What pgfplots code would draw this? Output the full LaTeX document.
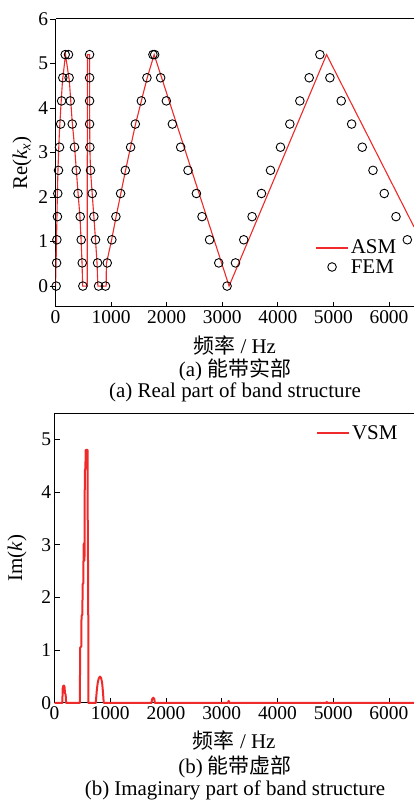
\documentclass[border=0pt]{standalone}
\usepackage{pgfplots}
\pgfplotsset{compat=1.18}
\usepackage{fontspec}
\setmainfont{Liberation Serif}
\newfontfamily\cjk{Noto Sans CJK SC}

\definecolor{curvered}{RGB}{238,42,42}

\newcommand{\lblfont}{\fontsize{21}{23}\selectfont}
\newcommand{\tickfont}{\fontsize{19.5}{21}\selectfont}

\pgfplotsset{
  bandaxis/.style={
    scale only axis,
    anchor=south west,
    xmin=0, xmax=6450,
    axis x line*=box, axis y line*=left,
    xtick={0,1000,...,6000},
    xtick pos=left,
    tick align=inside,
    major tick length=5bp,
    axis line style={line width=1bp, black},
    tick style={line width=0.8bp, black},
    scaled ticks=false,
    /pgf/number format/1000 sep={},
    /pgf/number format/assume math mode=true,
    ticklabel style={font=\tickfont},
    label style={font=\lblfont},
    legend cell align=left,
    legend style={draw=none, fill=none, font=\lblfont, inner sep=0pt,
      row sep=0bp},
    legend image code/.code={
      \draw[mark repeat=2,mark phase=2,##1] plot coordinates {(0bp,0bp) (16bp,0bp) (32bp,0bp)};
    },
  },
}

\begin{document}
\begin{tikzpicture}
\useasboundingbox (0bp,0bp) rectangle (414bp,803bp);

% ---------------- (a) real part ----------------
\begin{axis}[
  bandaxis,
  at={(55.5bp,496bp)}, width=358.5bp, height=288bp,
  ymin=-0.47, ymax=6,
  ytick={0,1,...,6},
  y tick style={xshift=-5bp},
  yticklabel style={xshift=-4bp},
  xlabel={{\cjk 频率} / Hz},
  xlabel style={at={(axis description cs:0.5,-0.132)}, anchor=center},
  ylabel={Re(\textit{k}\textsubscript{\textit{x}})},
  ylabel style={at={(axis description cs:-0.093,0.5)}, anchor=center},
  legend style={at={(axis description cs:0.724,0.24)}, anchor=north west},
]
% analytical spectral method
\addplot[curvered, line width=1.1bp, legend image post style={line width=1.6bp}] coordinates {
  (0,0) (10,0.5) (18,1.0) (25,1.5) (33,2.0) (42,2.5) (55,3.0) (72,3.5)
  (95,4.0) (125,4.6) (180,5.2)
  (250,4.6) (300,3.7) (345,3.1) (375,2.6) (405,2.1) (440,1.56) (460,1.05)
  (478,0.5) (488,0) (571,0) (573,5.2) (612,5.2) (614,4.0) (618,3.1)
  (630,2.6) (660,2.08) (690,1.56) (720,1.04) (748,0.5) (762,0)
  (912,0) (915,0.5) (1010,1.04) (1090,1.56) (1175,2.08) (1260,2.6)
  (1350,3.12) (1440,3.64) (1545,4.16) (1650,4.68) (1775,5.2)
  (3123,0) (4877,5.2) (6450,1.33)
};
\addlegendentry{ASM}
% finite element results
\addplot[only marks, mark=o, mark size=4.3bp, mark options={line width=0.9bp, black}] coordinates {
  (12,0) (20,0.52) (25,1.04) (35,1.56) (41,2.08) (54,2.6) (72,3.12)
  (92,3.64) (110,4.16) (131,4.68) (175,5.2)
  (234,5.2) (245,4.68) (265,4.16) (301,3.64) (342,3.12) (373,2.6)
  (405,2.08) (445,1.56) (463,1.04) (481,0.52) (492,0)
  (613,5.2) (613,4.68) (613,4.16) (613,3.64) (618,3.12) (630,2.6)
  (661,2.08) (690,1.56) (720,1.04) (757,0.52) (775,0)
  (900,0) (931,0.52) (1014,1.04) (1087,1.56) (1171,2.08) (1256,2.6)
  (1351,3.12) (1436,3.64) (1544,4.16) (1645,4.68) (1753,5.2)
  (1784,5.2) (1892,4.68) (1994,4.16) (2103,3.64) (2252,3.12) (2384,2.6)
  (2535,2.08) (2636,1.56) (2772,1.04) (2937,0.52) (3087,0)
  (3238,0.52) (3387,1.04) (3537,1.56) (3706,2.08) (3868,2.6) (4048,3.12)
  (4216,3.64) (4396,4.16) (4564,4.68) (4757,5.2)
  (4937,4.68) (5141,4.16) (5328,3.64) (5519,3.12) (5712,2.6) (5915,2.08)
  (6126,1.56) (6330,1.04)
};
\addlegendentry{FEM}
\end{axis}

\node[font=\lblfont] at (235bp,433bp) {(a) {\cjk 能带实部}};
\node[font=\lblfont] at (235bp,411bp) {(a) Real part of band structure};

% ---------------- (b) imaginary part ----------------
\begin{axis}[
  bandaxis,
  at={(54.5bp,100bp)}, width=359.5bp, height=290bp,
  ymin=0, ymax=5.5,
  ytick={0,1,...,5},
  clip=false,
  xlabel={{\cjk 频率} / Hz},
  xlabel style={at={(axis description cs:0.5,-0.128)}, anchor=center},
  ylabel={Im(\textit{k})},
  ylabel style={at={(axis description cs:-0.104,0.5)}, anchor=center},
  legend style={at={(axis description cs:0.727,0.93)}, anchor=west},
]
\addplot[curvered, line width=2bp, line join=round] coordinates {
  (0,0) (140,0) (148,0.28) (155,0.32) (170,0.33) (182,0.3) (186,0.19)
  (200,0.16) (208,0)
  (455,0) (460,1.05) (480,1.07) (485,1.65) (500,1.68) (505,2.25) (518,2.28)
  (522,3.0) (532,3.03) (538,2.7) (544,4.4) (554,4.45) (560,4.8) (594,4.8)
  (598,2.72) (604,2.7) (608,0)
  (740,0) (748,0.1) (760,0.25) (775,0.38) (795,0.47) (815,0.5) (835,0.48)
  (855,0.38) (870,0.2) (880,0.05) (885,0)
  (1740,0) (1750,0.07) (1770,0.1) (1790,0.08) (1800,0)
  (3110,0) (3125,0.04) (3140,0)
  (4875,0) (4885,0.02) (4895,0)
  (6450,0)
};
\addlegendentry{VSM}
\end{axis}

\node[font=\lblfont] at (235bp,36bp) {(b) {\cjk 能带虚部}};
\node[font=\lblfont] at (235bp,13bp) {(b) Imaginary part of band structure};
\end{tikzpicture}
\end{document}
